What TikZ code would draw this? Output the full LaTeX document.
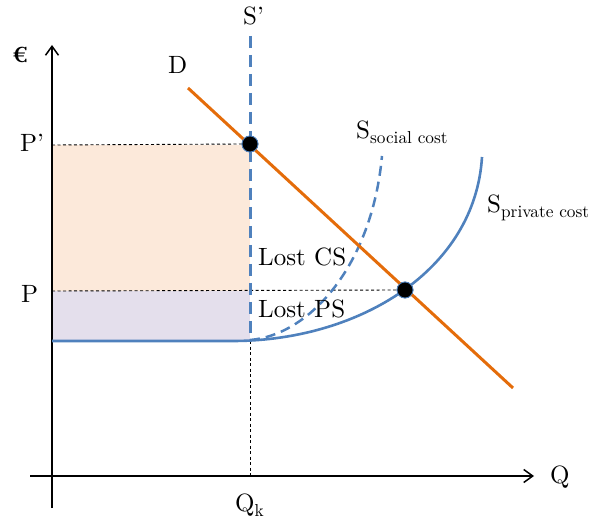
\documentclass[tikz,border=0pt]{standalone}
\usepackage{fontspec}
\setmainfont{lmroman10-regular.otf}[BoldFont=lmroman10-bold.otf]
\usetikzlibrary{arrows.meta}
\definecolor{sblue}{HTML}{4F81BD}
\definecolor{dorange}{HTML}{E46C0A}
\definecolor{csfill}{HTML}{FCE9DA}
\definecolor{psfill}{HTML}{E4DFEC}
\newcommand{\subtxt}[1]{\raisebox{-5pt}{\fontsize{17.3}{20}\selectfont #1}}
\begin{document}
\begin{tikzpicture}[x=1pt,y=-1pt,
 lbl/.style={anchor=base west,inner sep=0pt,font=\fontsize{25}{29}\selectfont},
 axis/.style={line width=1.5pt,-{Straight Barb[length=9pt,width=13pt,line width=1.5pt]}},
 guide/.style={line width=0.9pt,dash pattern=on 3pt off 2.5pt},
 supply/.style={sblue,line width=2.6pt},
 sdash/.style={sblue,line width=3pt,dash pattern=on 12pt off 7pt},
 sdash2/.style={sblue,line width=2.5pt,dash pattern=on 10pt off 6pt},
 demand/.style={dorange,line width=3pt},
 eq/.style={circle,fill=black,draw=sblue,line width=0.8pt,minimum size=16pt,inner sep=0pt}]
\useasboundingbox (0,0) rectangle (589,521);
% fills
\fill[csfill] (52,145) rectangle (250,291);
\fill[psfill] (52,291) rectangle (250,341);
% coordinates
\coordinate (ytop) at (52,45);
\coordinate (ybot) at (52,508);
\coordinate (xl) at (30,476);
\coordinate (xr) at (534,476);
\coordinate (pp) at (52,145);
\coordinate (p) at (52,291);
\coordinate (qkt) at (250,341);
\coordinate (qkb) at (250,476);
\coordinate (stop) at (250,36);
\coordinate (sfl) at (52,341);
\coordinate (sbend) at (235,341);
\coordinate (sptop) at (482,157);
\coordinate (ssbot) at (250,340);
\coordinate (sstop) at (382,156);
\coordinate (d1) at (188,88);
\coordinate (d2) at (513,388);
\node[eq] (E1) at (250,144) {};
\node[eq] (E2) at (405,290) {};
% guides
\draw[guide] (pp) -- (E1.west);
\draw[guide] (p) -- (E2.west);
\draw[guide] (qkt) -- (qkb);
% axes
\draw[axis] (ybot) -- (ytop);
\draw[axis] (xl) -- (xr);
% supply curves
\draw[supply] (sfl) -- (sbend) .. controls (360,340) and (475,270) .. (sptop);
\draw[sdash2] (ssbot) .. controls (310,335) and (372,265) .. (sstop);
\draw[sdash] (stop) -- (qkt);
% demand
\draw[demand] (d1) -- (d2);
% dots on top
\node[eq] at (E1) {};
\node[eq] at (E2) {};
% labels
\node[lbl,font=\fontsize{22}{26}\selectfont\bfseries] (euro) at (12,63) {€};
\node[lbl] (plab) at (20,152) {P’};
\node[lbl] (p2lab) at (21,302) {P};
\node[lbl] (qklab) at (235,511) {Q\subtxt{k}};
\node[lbl] (qlab) at (550,483) {Q};
\node[lbl] (dlab) at (168,74) {D};
\node[lbl] (splab) at (243,25) {S’};
\node[lbl] (sslab) at (356,139) {S\subtxt{social cost}};
\node[lbl] (sprlab) at (487,213) {S\subtxt{private cost}};
\node[lbl] (cs) at (258,266) {Lost CS};
\node[lbl] (ps) at (258,318) {Lost PS};
\end{tikzpicture}
\end{document}
